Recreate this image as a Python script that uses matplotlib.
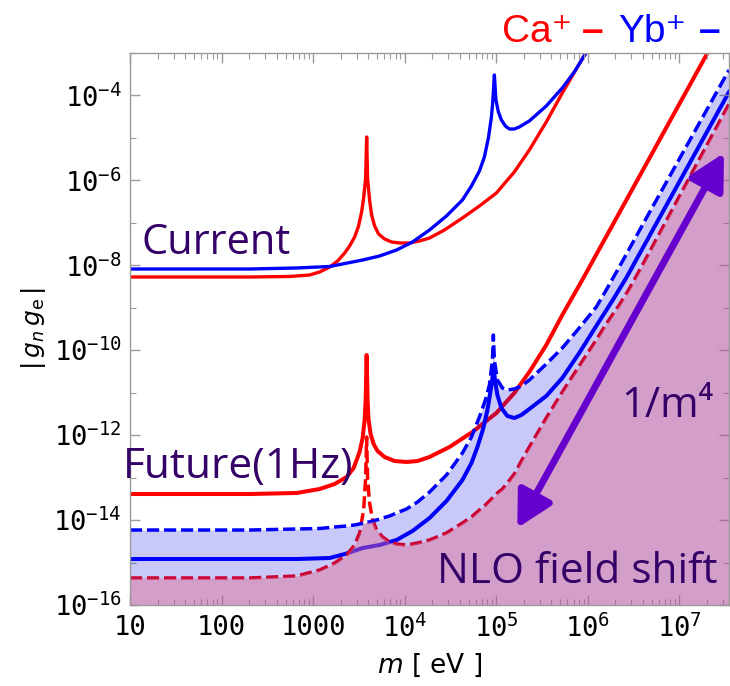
import numpy as np
import matplotlib
matplotlib.use('Agg')
import matplotlib.pyplot as plt
from matplotlib.ticker import FixedLocator, FixedFormatter, LogLocator, NullFormatter

# all values are log10: mass in eV, coupling |g_n g_e|
# current bounds (thin lines)
ca_now_m = [1.000, 2.309, 2.745, 2.963, 3.072, 3.181, 3.268, 3.345, 3.399, 3.454, 3.497, 3.530,
            3.552, 3.574, 3.585, 3.595, 3.617, 3.639, 3.672, 3.715, 3.781, 3.857, 3.944, 4.053,
            4.162, 4.272, 4.435, 4.631, 4.817, 5.002, 5.198, 5.362, 5.547, 5.722, 5.984]
ca_now_g = [-8.275, -8.275, -8.263, -8.228, -8.157, -8.040, -7.898, -7.710, -7.545, -7.333, -7.074,
            -6.744, -6.415, -5.944, -4.978, -5.944, -6.462, -6.815, -7.074, -7.262, -7.380, -7.451,
            -7.474, -7.474, -7.427, -7.357, -7.168, -6.886, -6.603, -6.297, -5.802, -5.284, -4.625,
            -3.942, -2.976]

yb_now_m = [1.000, 2.309, 2.821, 3.181, 3.541, 3.726, 3.912, 4.086, 4.272, 4.457, 4.631, 4.730,
            4.817, 4.871, 4.915, 4.948, 4.964, 4.980, 4.997, 5.024, 5.057, 5.100, 5.144, 5.198,
            5.253, 5.362, 5.547, 5.722, 5.853, 5.995]
yb_now_g = [-8.087, -8.087, -8.063, -8.028, -7.875, -7.781, -7.639, -7.451, -7.168, -6.838, -6.462,
            -6.132, -5.779, -5.449, -5.001, -4.507, -4.107, -3.518, -4.107, -4.389, -4.578, -4.719,
            -4.790, -4.790, -4.742, -4.601, -4.248, -3.824, -3.447, -2.950]

# future (1 Hz) bounds, solid
ca_fut_m = [1.000, 2.309, 2.821, 3.072, 3.236, 3.366, 3.443, 3.508, 3.541, 3.563, 3.574, 3.585,
            3.595, 3.606, 3.628, 3.661, 3.704, 3.781, 3.890, 4.021, 4.141, 4.272, 4.490, 4.740,
            5.002, 5.198, 5.362, 5.547, 5.722, 5.853, 5.940, 7.314]
ca_fut_g = [-13.386, -13.386, -13.362, -13.268, -13.150, -12.985, -12.773, -12.397, -12.067, -11.643,
            -11.172, -10.112, -11.172, -11.643, -11.973, -12.208, -12.373, -12.514, -12.609, -12.632,
            -12.609, -12.514, -12.279, -11.926, -11.478, -11.007, -10.513, -9.877, -9.170, -8.675,
            -8.346, -2.976]

yb_fut_m = [1.000, 2.309, 2.821, 3.181, 3.345, 3.541, 3.726, 3.912, 4.086, 4.272, 4.457, 4.631,
            4.730, 4.795, 4.860, 4.904, 4.937, 4.959, 4.969, 4.986, 5.013, 5.057, 5.122, 5.198,
            5.275, 5.362, 5.547, 5.722, 5.907, 6.093, 6.267, 6.420, 7.543]
yb_fut_g = [-14.917, -14.917, -14.917, -14.893, -14.800, -14.658, -14.587, -14.469, -14.257, -13.951,
            -13.551, -13.056, -12.656, -12.279, -11.831, -11.407, -10.984, -10.654, -10.395, -10.701,
            -11.054, -11.360, -11.549, -11.596, -11.525, -11.384, -11.078, -10.654, -10.065, -9.429,
            -8.840, -8.299, -3.918]

# NLO field shift (dashed), read on one shared mass grid
nlo_m = [1.000, 2.309, 2.821, 3.072, 3.236, 3.366, 3.454, 3.508, 3.552, 3.574, 3.585, 3.595,
         3.617, 3.650, 3.694, 3.759, 3.835, 3.912, 4.021, 4.141, 4.272, 4.457, 4.631, 4.730,
         4.817, 4.882, 4.926, 4.959, 4.969, 4.980, 5.013, 5.068, 5.122, 5.198, 5.275, 5.362,
         5.547, 5.722, 5.907, 6.093, 6.202, 6.344, 6.453, 6.616, 7.543]
ca_nlo_g = [-15.364, -15.364, -15.317, -15.176, -15.011, -14.822, -14.587, -14.304, -13.763, -13.009,
            -12.043, -13.009, -13.598, -13.998, -14.234, -14.399, -14.516, -14.563, -14.587, -14.540,
            -14.469, -14.304, -14.069, -13.927, -13.763, -13.645, -13.551, -13.480, -13.456, -13.433,
            -13.362, -13.268, -13.127, -12.915, -12.609, -12.279, -11.596, -10.984, -10.371, -9.759,
            -9.382, -8.935, -8.558, -7.922, -4.201]
yb_nlo_g = [-14.234, -14.234, -14.210, -14.198, -14.163, -14.139, -14.116, -14.092, -14.069, -14.069,
            -14.045, -14.045, -14.045, -14.022, -13.998, -13.951, -13.904, -13.833, -13.739, -13.574,
            -13.339, -12.938, -12.420, -12.043, -11.572, -11.172, -10.819, -10.230, -9.641, -10.230,
            -10.701, -10.889, -10.936, -10.913, -10.842, -10.701, -10.324, -9.947, -9.476, -8.982,
            -8.581, -8.040, -7.616, -6.980, -3.400]

xtick_labels = ['10', '100', '1000', r'$\mathdefault{10^{4}}$', r'$\mathdefault{10^{5}}$',
                r'$\mathdefault{10^{6}}$', r'$\mathdefault{10^{7}}$']
ytick_exps = [-16, -14, -12, -10, -8, -6, -4]

plt.rcParams['font.family'] = 'DejaVu Sans Mono'
plt.rcParams['mathtext.fontset'] = 'custom'
plt.rcParams['mathtext.rm'] = 'DejaVu Sans'
plt.rcParams['mathtext.it'] = 'DejaVu Sans:italic'

RED = '#ff0000'
BLUE = '#0000ff'
TXT = '#340068'

fig = plt.figure(figsize=(7.3, 6.86), dpi=100)
ax = fig.add_axes([130 / 730, 81 / 686, 599 / 730, 552 / 686])
ax.set_xscale('log')
ax.set_yscale('log')

p = lambda a: 10.0 ** np.array(a)
kw = dict(solid_joinstyle='round', dash_joinstyle='round', zorder=1)

ax.plot(p(ca_now_m), p(ca_now_g), color=RED, lw=2.4, **kw)
ax.plot(p(yb_now_m), p(yb_now_g), color=BLUE, lw=2.4, **kw)
ax.plot(p(ca_fut_m), p(ca_fut_g), color=RED, lw=2.9, **kw)
ax.plot(p(yb_fut_m), p(yb_fut_g), color=BLUE, lw=2.9, **kw)
ax.plot(p(nlo_m), p(ca_nlo_g), color=RED, lw=2.5, ls=(0, (3.5, 1.4)), **kw)
ax.plot(p(nlo_m), p(yb_nlo_g), color=BLUE, lw=2.5, ls=(0, (3.5, 1.4)), **kw)

# shaded regions drawn over the lines
ax.fill_between(p(nlo_m), 1e-18, p(yb_nlo_g), color=(0.0, 0.0, 0.9), alpha=0.21, lw=0, zorder=2)
ax.fill_between(p(nlo_m), 1e-18, p(np.minimum(ca_nlo_g, yb_nlo_g)),
                color=(0.88, 0.42, 0.56), alpha=0.45, lw=0, zorder=2)

ax.annotate('', xy=(1.7e5, 6.5e-15), xytext=(3.08e7, 4.4e-6),
            arrowprops=dict(arrowstyle='<|-|>,head_length=0.6,head_width=0.32', color='#6600cc',
                            lw=5, mutation_scale=36, shrinkA=0, shrinkB=0), zorder=3)

ax.set_xlim(10, 10 ** 7.543)
ax.set_ylim(1e-16, 1e-3)

ax.xaxis.set_major_locator(FixedLocator([10 ** k for k in range(1, 8)]))
ax.xaxis.set_major_formatter(FixedFormatter(xtick_labels))
ax.xaxis.set_minor_locator(LogLocator(base=10, subs=np.arange(2, 10), numticks=20))
ax.xaxis.set_minor_formatter(NullFormatter())
ax.yaxis.set_major_locator(FixedLocator([10.0 ** k for k in ytick_exps]))
ax.yaxis.set_major_formatter(FixedFormatter([r'$\mathdefault{10^{%d}}$' % k for k in ytick_exps]))
ax.yaxis.set_minor_locator(FixedLocator([10.0 ** k for k in range(-15, -2, 2)]))
ax.yaxis.set_minor_formatter(NullFormatter())

ax.tick_params(which='both', direction='in', top=True, right=True, color='#9a9a9a', labelsize=19.5)
ax.tick_params(which='major', length=7, width=1)
ax.tick_params(which='minor', length=4, width=0.8)
ax.tick_params(axis='x', pad=7)
ax.tick_params(axis='y', pad=6)
for s in ax.spines.values():
    s.set_color('#9a9a9a')
    s.set_linewidth(1)

ax.set_xlabel(r'$m$ [ eV ]', fontsize=19, family='DejaVu Sans', labelpad=6)
ax.set_ylabel(r'$|\,g_n\,g_{\mathrm{e}}\,|$', fontsize=18, labelpad=4)

sans = ['Open Sans', 'DejaVu Sans']
ax.text(0.02, 0.636, 'Current', transform=ax.transAxes, fontsize=30, color=TXT, family=sans, va='baseline', zorder=4)
ax.text(-0.012, 0.230, 'Future(1Hz)', transform=ax.transAxes, fontsize=30.5, color=TXT, family=sans, va='baseline', zorder=4)
ax.text(0.82, 0.341, '1/m\u2074', transform=ax.transAxes, fontsize=30, color=TXT, family=sans, va='baseline', zorder=4)
ax.text(0.512, 0.040, 'NLO field shift', transform=ax.transAxes, fontsize=30.5, color=TXT, family=sans, va='baseline', zorder=4)

leg = ['Liberation Sans', 'DejaVu Sans']
fig.text(502 / 730, 1 - 42 / 686, 'Ca\u207a', fontsize=28, color=RED, family=leg, va='baseline')
fig.text(582 / 730, 1 - 42 / 686, '\u2013', fontsize=28, color=RED, family=leg, va='baseline', weight='bold')
fig.text(618 / 730, 1 - 42 / 686, 'Yb\u207a', fontsize=28, color=BLUE, family=leg, va='baseline')
fig.text(699 / 730, 1 - 42 / 686, '\u2013', fontsize=28, color=BLUE, family=leg, va='baseline', weight='bold')

fig.savefig('out.png', dpi=100)
